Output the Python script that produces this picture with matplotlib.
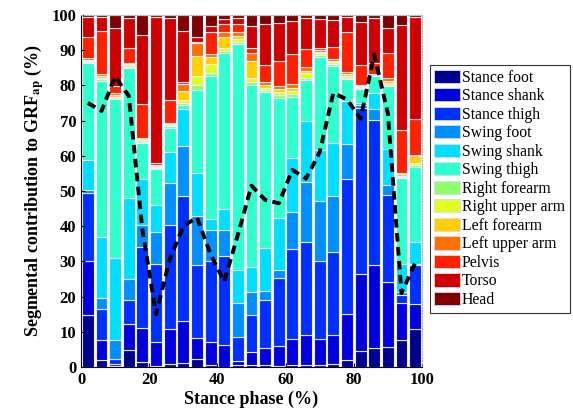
import matplotlib
matplotlib.use("Agg")
import numpy as np
import matplotlib.pyplot as plt
from matplotlib.patches import Patch

# Stance phase (%) of each bar
phase = [2, 6, 10, 14, 18, 22, 26, 30, 34, 38, 42, 46, 50,
         54, 58, 62, 66, 70, 74, 78, 82, 86, 90, 94, 98]

# Segment contributions (%), bottom to top
stance_foot = [14.8, 1.9, 0.3, 4.8, 1.4, 0.2, 0.9, 1.3, 2.2, 0.5, 0.1, 0.5, 0.5,
               0.5, 0.2, 0.5, 0.5, 0.7, 1.0, 1.9, 4.5, 5.3, 5.7, 7.6, 10.9]
stance_shank = [15.2, 5.7, 0.7, 7.3, 9.6, 6.8, 9.9, 11.7, 6.1, 6.7, 6.1, 1.2, 3.8,
                5.0, 5.8, 7.6, 8.6, 7.2, 8.1, 13.3, 21.8, 23.7, 18.5, 10.7, 6.9]
stance_thigh = [19.3, 9.0, 1.4, 6.9, 23.2, 22.4, 29.5, 35.7, 20.7, 22.9, 25.4, 6.9, 10.4,
                13.5, 19.2, 25.4, 26.5, 22.2, 23.5, 38.3, 47.3, 41.1, 24.7, 2.1, 11.3]
swing_foot = [1.0, 2.9, 5.2, 6.0, 6.1, 9.0, 12.0, 14.0, 14.0, 8.8, 7.3, 9.5, 6.7,
              2.6, 2.3, 10.6, 16.9, 17.1, 16.1, 9.7, 0.7, 3.3, 2.9, 0.8, 0.3]
swing_shank = [8.4, 17.5, 23.4, 23.1, 13.0, 7.6, 8.7, 10.5, 12.2, 3.1, 6.0, 9.4, 7.1,
               12.1, 14.7, 15.3, 17.4, 14.4, 15.0, 12.3, 0.8, 4.3, 10.0, 8.2, 6.2]
swing_thigh = [27.6, 44.2, 45.0, 36.9, 10.4, 10.1, 7.0, 1.3, 23.5, 40.7, 44.4, 64.2, 51.5,
               44.4, 34.3, 17.4, 11.6, 26.3, 21.8, 6.2, 3.8, 4.8, 18.0, 24.3, 21.3]
right_forearm = [0.3, 0.5, 0.4, 0.3, 0.3, 0.3, 0.3, 0.6, 1.3, 0.9, 0.5, 0.6, 0.9,
                 0.6, 0.7, 0.6, 0.7, 0.6, 0.5, 0.5, 0.3, 0.15, 0.3, 0.3, 0.5]
right_upper_arm = [0.4, 0.5, 0.4, 0.4, 0.4, 0.3, 0.3, 0.7, 2.6, 2.4, 0.9, 0.8, 1.3,
                   0.6, 0.9, 1.0, 1.2, 0.6, 0.5, 0.5, 0.3, 0.15, 0.6, 0.3, 0.6]
left_forearm = [0.3, 0.4, 0.5, 0.3, 0.3, 0.3, 0.3, 2.5, 5.7, 1.9, 2.9, 0.9, 4.7,
                0.7, 0.8, 0.9, 0.7, 0.4, 0.5, 0.5, 0.3, 0.15, 0.6, 0.4, 1.9]
left_upper_arm = [0.4, 0.5, 0.4, 0.4, 0.4, 0.3, 0.3, 2.2, 3.8, 0.9, 1.4, 1.0, 2.4,
                  0.9, 0.9, 1.0, 1.2, 0.5, 0.6, 0.6, 0.2, 0.15, 0.9, 0.3, 0.2]
pelvis = [6.0, 12.4, 2.1, 4.3, 9.5, 0.7, 6.6, 0.4, 0.3, 6.4, 2.3, 2.3, 1.4,
          4.8, 7.1, 8.5, 5.1, 0.5, 3.4, 11.2, 5.7, 3.3, 7.1, 12.3, 10.4]
torso = [5.6, 4.0, 16.6, 8.3, 19.6, 41.5, 23.2, 14.6, 1.3, 1.7, 1.5, 1.9, 6.0,
         11.6, 10.9, 9.5, 8.6, 8.3, 7.6, 4.5, 12.3, 12.6, 7.1, 29.8, 29.0]
head = [0.7, 0.5, 3.6, 1.0, 5.8, 0.5, 1.0, 4.5, 6.3, 3.1, 1.2, 0.8, 3.3,
        2.7, 2.2, 1.7, 1.0, 1.2, 1.4, 0.5, 2.0, 1.0, 3.6, 2.9, 0.5]

# Total contribution (dashed line)
total = [75.0, 72.7, 82.5, 77.0, 39.0, 15.0, 30.5, 40.0, 42.5, 32.0, 24.3, 37.5, 51.5,
         47.5, 46.5, 56.0, 53.5, 61.0, 77.8, 76.0, 70.5, 88.7, 72.0, 21.0, 29.5]

labels = ["Stance foot", "Stance shank", "Stance thigh", "Swing foot", "Swing shank",
          "Swing thigh", "Right forearm", "Right upper arm", "Left forearm",
          "Left upper arm", "Pelvis", "Torso", "Head"]
colors = ["#00008f", "#0000df", "#0030ff", "#0090ff", "#00dfff", "#30ffcf",
          "#8fff70", "#dfff20", "#ffcf00", "#ff7000", "#ff2000", "#cf0000", "#800000"]

segments = [stance_foot, stance_shank, stance_thigh, swing_foot, swing_shank,
            swing_thigh, right_forearm, right_upper_arm, left_forearm,
            left_upper_arm, pelvis, torso, head]

plt.rcParams["font.family"] = "Liberation Serif"
plt.rcParams["mathtext.fontset"] = "stix"

fig = plt.figure(figsize=(5.73, 4.12), dpi=100)
ax = fig.add_axes([0.1414, 0.109, 0.595, 0.855])

bottom = np.zeros(len(phase))
for seg, col in zip(segments, colors):
    ax.bar(phase, seg, width=3.5, bottom=bottom, color=col,
           edgecolor="#eeeefa", linewidth=0.8)
    bottom += np.array(seg)

ax.plot(phase, total, color="black", linewidth=2.8, linestyle=(0, (2.2, 1.4)))

ax.set_xlim(0, 100)
ax.set_ylim(0, 100)
ax.set_xticks([0, 20, 40, 60, 80, 100])
ax.set_yticks(np.arange(0, 101, 10))
ax.tick_params(direction="in", length=3, labelsize=12, width=0.8)
for lbl in ax.get_xticklabels() + ax.get_yticklabels():
    lbl.set_fontweight("bold")

ax.set_xlabel("Stance phase (%)", fontsize=13, fontweight="bold", labelpad=2)
ax.set_ylabel(r"Segmental contribution to GRF$_{\mathbf{ap}}$ (%)",
              fontsize=13, fontweight="bold", labelpad=4)

for side in ["top", "right"]:
    ax.spines[side].set_linestyle(":")
    ax.spines[side].set_color("#b0b0b0")

handles = [Patch(facecolor=c, edgecolor="#d8d8f0", linewidth=0.6) for c in colors]
leg = fig.legend(handles, labels, loc="upper left", bbox_to_anchor=(0.750, 0.842),
                 fontsize=11.3, frameon=True, fancybox=False, handlelength=1.6,
                 handleheight=0.9, handletextpad=0.15, labelspacing=0.16,
                 borderpad=0.3, borderaxespad=0)
leg.get_frame().set_edgecolor("black")
leg.get_frame().set_linewidth(0.8)

fig.savefig("out.png", dpi=100)
